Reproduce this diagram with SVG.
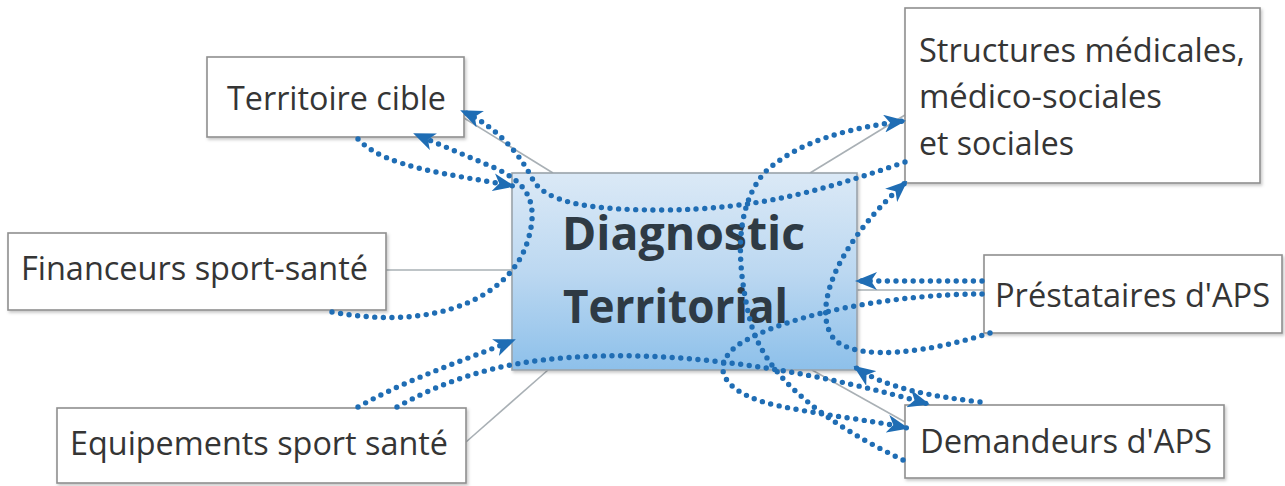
<svg xmlns="http://www.w3.org/2000/svg" width="1285" height="486" viewBox="0 0 1285 486">
  <defs>
    <style>
      .box { fill: #ffffff; stroke: #8f8f8f; stroke-width: 1.6; filter: url(#sh); }
      .lbl { font-family: "Open Sans", "Liberation Sans", sans-serif; font-size: 32.5px; fill: #353535; }
      .main { font-family: "Open Sans", "Liberation Sans", sans-serif; font-size: 47px; font-weight: bold; fill: #2e3a44; }
      .tree { stroke: #a9b0b5; stroke-width: 1.6; fill: none; }
      .dot { stroke: #1f6db4; stroke-width: 5.4; stroke-linecap: round; stroke-dasharray: 0 8.6; fill: none; }
      .arr { marker-end: url(#ah); }
    </style>
    <filter id="sh" x="-10%" y="-10%" width="120%" height="130%">
      <feDropShadow dx="1.5" dy="2" stdDeviation="1.5" flood-color="#000" flood-opacity="0.22"/>
    </filter>
    <linearGradient id="cg" x1="0" y1="0" x2="0" y2="1">
      <stop offset="0" stop-color="#dbe9f6"/>
      <stop offset="0.5" stop-color="#bcd8f1"/>
      <stop offset="1" stop-color="#8dc0ea"/>
    </linearGradient>
    <marker id="ah" viewBox="0 0 22 18" refX="20" refY="9" markerWidth="22" markerHeight="18" markerUnits="userSpaceOnUse" orient="auto">
      <path d="M0,0 L22,9 L0,18 L6,9 z" fill="#1f6db4"/>
    </marker>
  </defs>
  <rect width="1285" height="486" fill="#ffffff"/>

  <g id="tree-lines">
    <line class="tree" x1="464" y1="118" x2="553" y2="173"/>
    <line class="tree" x1="810" y1="173" x2="905" y2="115"/>
    <line class="tree" x1="386" y1="270" x2="512" y2="270"/>
    <line class="tree" x1="857" y1="290" x2="984" y2="290"/>
    <line class="tree" x1="466" y1="442" x2="548" y2="370"/>
    <line class="tree" x1="812" y1="370" x2="905" y2="422"/>
  </g>

  <g id="node-center">
    <rect x="512" y="173" width="345" height="197" fill="url(#cg)" stroke="#9aa3aa" stroke-width="1.6" filter="url(#sh)"/>
    <text class="main" x="562" y="250" textLength="243" lengthAdjust="spacingAndGlyphs">Diagnostic</text>
    <text class="main" x="563" y="323" textLength="225" lengthAdjust="spacingAndGlyphs">Territorial</text>
  </g>

  <g id="node-territoire">
    <rect class="box" x="207" y="57" width="257" height="80"/>
    <text class="lbl" x="227" y="110" textLength="219" lengthAdjust="spacingAndGlyphs">Territoire cible</text>
  </g>

  <g id="node-structures">
    <rect class="box" x="905" y="8" width="355" height="175"/>
    <text class="lbl" x="919" y="62" textLength="326" lengthAdjust="spacingAndGlyphs">Structures médicales,</text>
    <text class="lbl" x="919" y="108" textLength="243" lengthAdjust="spacingAndGlyphs">médico-sociales</text>
    <text class="lbl" x="919" y="155" textLength="155" lengthAdjust="spacingAndGlyphs">et sociales</text>
  </g>

  <g id="node-financeurs">
    <rect class="box" x="8" y="233" width="378" height="77"/>
    <text class="lbl" x="21" y="280" textLength="347" lengthAdjust="spacingAndGlyphs">Financeurs sport-santé</text>
  </g>

  <g id="node-equipements">
    <rect class="box" x="57" y="408" width="409" height="75"/>
    <text class="lbl" x="70" y="455" textLength="378" lengthAdjust="spacingAndGlyphs">Equipements sport santé</text>
  </g>

  <g id="node-prestataires">
    <rect class="box" x="984" y="255" width="298" height="78"/>
    <text class="lbl" x="995" y="307" textLength="275" lengthAdjust="spacingAndGlyphs">Préstataires d'APS</text>
  </g>

  <g id="node-demandeurs">
    <rect class="box" x="905" y="405" width="319" height="73"/>
    <text class="lbl" x="920" y="453" textLength="292" lengthAdjust="spacingAndGlyphs">Demandeurs d'APS</text>
  </g>

  <g id="connectors">
    <path class="dot arr" d="M358,139 C385,168 450,174 513,186"/>
    <path class="dot arr" d="M332,312 C440,332 512,295 528,240 C540,200 525,182 495,168 L415,134"/>
    <path class="dot arr" d="M905,162 C830,188 760,210 660,210 C580,210 545,200 533,180 C522,158 500,128 462,111"/>
    <path class="dot arr" d="M903,460 C830,425 765,380 750,320 C738,270 732,210 765,172 C800,140 850,128 904,121"/>
    <path class="dot arr" d="M982,281 L857,281"/>
    <path class="dot arr" d="M982,294 C900,294 790,312 738,345 C705,370 730,395 775,405 C820,415 870,420 907,428"/>
    <path class="dot arr" d="M990,333 C930,352 860,362 835,340 C812,315 830,250 906,182"/>
    <path class="dot arr" d="M358,407 C410,378 460,362 514,340"/>
    <path class="dot arr" d="M397,407 C460,372 520,358 600,356 C710,353 830,376 928,404"/>
    <path class="dot arr" d="M980,402 C930,396 885,388 855,367"/>
  </g>
</svg>
